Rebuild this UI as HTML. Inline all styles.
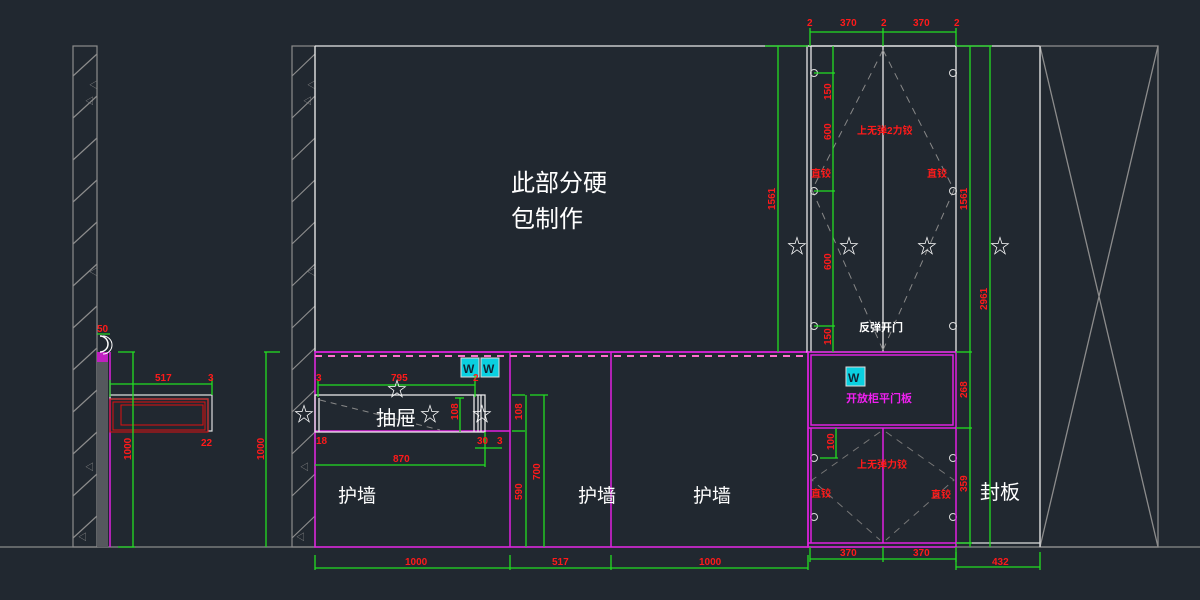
<!DOCTYPE html>
<html><head><meta charset="utf-8"><style>
html,body{margin:0;padding:0;background:#212830;}
svg{display:block}
text{font-family:"Liberation Sans","Noto Sans CJK SC","WenQuanYi Zen Hei",sans-serif}
.r{fill:#ff1a1a;font-size:10px;font-weight:bold}
.w{fill:#fff}
</style></head><body>
<svg width="1200" height="600" viewBox="0 0 1200 600" xmlns="http://www.w3.org/2000/svg">
<rect width="1200" height="600" fill="#212830"/>
<line x1="0" y1="547" x2="1200" y2="547" stroke="#8a8a8a" stroke-width="1.2"/>
<g stroke="#8c8c8c" fill="none" stroke-width="1.2">
<rect x="73" y="46" width="24" height="501"/>
<rect x="292" y="46" width="23" height="501"/>
<path d="M73 76 L97 54 M73 118 L97 96 M73 160 L97 138 M73 202 L97 180 M73 244 L97 222 M73 286 L97 264 M73 328 L97 306 M73 370 L97 348 M73 412 L97 390 M73 454 L97 432 M73 496 L97 474 M73 538 L97 516"/>
<path d="M292 76 L315 54 M292 118 L315 96 M292 160 L315 138 M292 202 L315 180 M292 244 L315 222 M292 286 L315 264 M292 328 L315 306 M292 370 L315 348 M292 412 L315 390 M292 454 L315 432 M292 496 L315 474 M292 538 L315 516"/>
</g>
<g fill="#8c8c8c" font-size="9">
<text x="89" y="88">◁</text><text x="85" y="104">◁</text><text x="89" y="275">◁</text><text x="85" y="470">◁</text><text x="78" y="540">◁</text>
<text x="307" y="88">◁</text><text x="303" y="104">◁</text><text x="307" y="275">◁</text><text x="300" y="470">◁</text><text x="296" y="540">◁</text>
</g>
<rect x="97" y="356" width="11" height="191" fill="#55585d"/>
<rect x="97" y="352" width="11" height="10" fill="#c020c0"/>
<line x1="110" y1="352" x2="110" y2="547" stroke="#e020e0" stroke-width="1.5"/>
<path d="M100 336 A8 8 0 0 1 100 352" stroke="#fff" fill="none" stroke-width="1.5"/>
<path d="M103 336 A9 9 0 0 1 103 354" stroke="#fff" fill="none" stroke-width="1"/>
<line x1="97" y1="334" x2="110" y2="334" stroke="#2f2"/>
<text class="r" x="97" y="332" font-size="9">50</text>
<path d="M110 395 H212 V431 H208 V399 H110 Z" fill="none" stroke="#ddd" stroke-width="1.2"/>
<g stroke="#e01010" fill="none">
<rect x="110" y="399" width="98" height="33"/><rect x="113" y="402" width="92" height="28"/><rect x="121" y="405" width="82" height="20"/>
</g>
<g stroke="#22dd22" fill="none" stroke-width="1.3">
<line x1="110" y1="384" x2="212" y2="384"/><line x1="110" y1="380" x2="110" y2="397"/><line x1="212" y1="378" x2="212" y2="395"/>
<line x1="133" y1="352" x2="133" y2="547"/><line x1="118" y1="352" x2="135" y2="352"/><line x1="118" y1="547" x2="135" y2="547"/>
<line x1="266" y1="352" x2="266" y2="547"/><line x1="264" y1="352" x2="280" y2="352"/>
</g>
<text class="r" x="155" y="381">517</text><text class="r" x="208" y="381">3</text><text class="r" x="201" y="446" font-size="9">22</text>
<text class="r" transform="translate(131,460) rotate(-90)">1000</text>
<text class="r" transform="translate(264,460) rotate(-90)">1000</text>
<g stroke="#e8e8e8" fill="none" stroke-width="1.3">
<line x1="315" y1="46" x2="1040" y2="46"/><line x1="315" y1="46" x2="315" y2="352"/>
</g>
<text class="w" x="511" y="191" font-size="24">此部分硬</text>
<text class="w" x="511" y="227" font-size="24">包制作</text>
<g stroke="#8c8c8c" fill="none" stroke-width="1.3">
<rect x="1040" y="46" width="118" height="501"/>
<path d="M1040 46 L1158 547 M1158 46 L1040 547"/>
</g>
<line x1="1040" y1="46" x2="1040" y2="547" stroke="#ddd" stroke-width="1.3"/>
<line x1="956" y1="543" x2="1040" y2="543" stroke="#ddd" stroke-width="1.3"/>
<g stroke="#e020e0" fill="none" stroke-width="1.5">
<line x1="315" y1="352" x2="808" y2="352"/>
<rect x="315" y="352" width="493" height="195"/>
<line x1="510" y1="352" x2="510" y2="547"/><line x1="611" y1="352" x2="611" y2="547"/>
<line x1="315" y1="431" x2="510" y2="431"/>
</g>
<line x1="315" y1="356" x2="808" y2="356" stroke="#ff6fcf" stroke-width="2" stroke-dasharray="7 6"/>
<g stroke="#e8e8e8" fill="none" stroke-width="1.3">
<rect x="315" y="395" width="170" height="37"/><line x1="319" y1="398" x2="319" y2="432"/>
<line x1="474" y1="395" x2="474" y2="432"/><line x1="478" y1="395" x2="478" y2="432"/><line x1="481" y1="395" x2="481" y2="432"/>
</g>
<line x1="320" y1="400" x2="440" y2="430" stroke="#888" stroke-dasharray="6 5"/>
<text class="w" x="376" y="425" font-size="20">抽屉</text>
<g stroke="#ddd" stroke-width="1"><rect x="461" y="358" width="18" height="19" fill="#0ad0e0"/><rect x="481" y="358" width="18" height="19" fill="#0ad0e0"/><rect x="846" y="367" width="19" height="19" fill="#0ad0e0"/></g>
<g fill="#123" font-size="12" font-weight="bold"><text x="463" y="373">W</text><text x="483" y="373">W</text><text x="848" y="382">W</text></g>
<g stroke="#22dd22" fill="none" stroke-width="1.3">
<line x1="318" y1="385" x2="475" y2="385"/><line x1="318" y1="381" x2="318" y2="397"/><line x1="475" y1="375" x2="475" y2="397"/>
<line x1="315" y1="465" x2="485" y2="465"/><line x1="485" y1="432" x2="485" y2="467"/>
<line x1="475" y1="448" x2="502" y2="448"/>
<line x1="460" y1="398" x2="460" y2="432"/><line x1="455" y1="398" x2="464" y2="398"/>
<line x1="512" y1="395" x2="525" y2="395"/><line x1="512" y1="431" x2="525" y2="431"/>
<line x1="526" y1="395" x2="526" y2="547"/><line x1="530" y1="395" x2="548" y2="395"/><line x1="544" y1="395" x2="544" y2="547"/>
<line x1="315" y1="568" x2="808" y2="568"/>
<line x1="315" y1="555" x2="315" y2="570"/><line x1="510" y1="555" x2="510" y2="570"/><line x1="611" y1="555" x2="611" y2="570"/><line x1="808" y1="555" x2="808" y2="570"/>
</g>
<text class="r" x="316" y="381">3</text><text class="r" x="391" y="381">795</text><text class="r" x="473" y="381">2</text>
<text class="r" x="316" y="444" font-size="9">18</text><text class="r" x="393" y="462">870</text>
<text class="r" x="477" y="444" font-size="9">30</text><text class="r" x="497" y="444" font-size="9">3</text>
<text class="r" transform="translate(458,420) rotate(-90)" font-size="9">108</text>
<text class="r" transform="translate(522,420) rotate(-90)" font-size="9">108</text>
<text class="r" transform="translate(522,500) rotate(-90)" font-size="9">590</text>
<text class="r" transform="translate(540,480) rotate(-90)" font-size="9">700</text>
<text class="r" x="405" y="565">1000</text><text class="r" x="552" y="565">517</text><text class="r" x="699" y="565">1000</text>
<text class="w" x="338" y="502" font-size="19">护墙</text>
<text class="w" x="578" y="502" font-size="19">护墙</text>
<text class="w" x="693" y="502" font-size="19">护墙</text>
<g stroke="#e8e8e8" fill="none" stroke-width="1.3">
<rect x="807" y="46" width="149" height="306"/><line x1="811" y1="46" x2="811" y2="352"/>
<line x1="883" y1="46" x2="883" y2="352"/>
</g>
<path d="M883 50 L812 190 L883 350 M883 50 L954 190 L883 350" stroke="#888" fill="none" stroke-dasharray="7 6"/>
<g stroke="#ddd" fill="none"><circle cx="814" cy="73" r="3.5"/><circle cx="814" cy="191" r="3.5"/><circle cx="814" cy="326" r="3.5"/><circle cx="953" cy="73" r="3.5"/><circle cx="953" cy="191" r="3.5"/><circle cx="953" cy="326" r="3.5"/>
<circle cx="814" cy="458" r="3.5"/><circle cx="814" cy="517" r="3.5"/><circle cx="953" cy="458" r="3.5"/><circle cx="953" cy="517" r="3.5"/></g>
<g stroke="#e020e0" fill="none" stroke-width="1.5">
<rect x="808" y="352" width="148" height="195"/><rect x="811" y="355" width="142" height="70"/>
<line x1="808" y1="428" x2="956" y2="428"/><line x1="883" y1="428" x2="883" y2="543"/><line x1="808" y1="543" x2="956" y2="543"/><line x1="811" y1="428" x2="811" y2="543"/>
</g>
<path d="M880 432 L812 480 L880 540 M886 432 L954 480 L886 540" stroke="#777" fill="none" stroke-dasharray="7 6"/>
<text x="846" y="402" fill="#f020f0" font-size="11" font-weight="bold">开放柜平门板</text>
<text class="r" x="857" y="134" font-size="11">上无弹2力铰</text>
<text class="r" x="811" y="177" font-size="11">直铰</text><text class="r" x="927" y="177" font-size="11">直铰</text>
<text class="r" x="857" y="468" font-size="11">上无弹力铰</text>
<text class="r" x="811" y="497" font-size="11">直铰</text><text class="r" x="931" y="498" font-size="11">直铰</text>
<text class="w" x="859" y="331" font-size="11" font-weight="bold">反弹开门</text>
<text class="w" x="980" y="499" font-size="20">封板</text>
<g stroke="#22dd22" fill="none" stroke-width="1.3">
<line x1="810" y1="32" x2="956" y2="32"/><line x1="810" y1="28" x2="810" y2="46"/><line x1="883" y1="28" x2="883" y2="46"/><line x1="956" y1="28" x2="956" y2="46"/>
<line x1="778" y1="46" x2="778" y2="352"/><line x1="765" y1="46" x2="808" y2="46"/>
<line x1="833" y1="46" x2="833" y2="352"/><line x1="814" y1="73" x2="835" y2="73"/><line x1="814" y1="191" x2="835" y2="191"/><line x1="814" y1="326" x2="835" y2="326"/>
<line x1="970" y1="46" x2="970" y2="547"/><line x1="990" y1="46" x2="990" y2="547"/><line x1="956" y1="46" x2="992" y2="46"/>
<line x1="956" y1="352" x2="972" y2="352"/><line x1="956" y1="428" x2="972" y2="428"/><line x1="956" y1="543" x2="972" y2="543"/>
<line x1="836" y1="428" x2="836" y2="458"/><line x1="820" y1="458" x2="838" y2="458"/>
<line x1="810" y1="559" x2="956" y2="559"/><line x1="810" y1="547" x2="810" y2="562"/><line x1="883" y1="547" x2="883" y2="562"/><line x1="956" y1="547" x2="956" y2="562"/>
<line x1="956" y1="567" x2="1040" y2="567"/><line x1="956" y1="552" x2="956" y2="570"/><line x1="1040" y1="552" x2="1040" y2="570"/>
</g>
<text class="r" x="807" y="26">2</text><text class="r" x="840" y="26">370</text><text class="r" x="881" y="26">2</text><text class="r" x="913" y="26">370</text><text class="r" x="954" y="26">2</text>
<text class="r" transform="translate(775,210) rotate(-90)">1561</text>
<text class="r" transform="translate(831,100) rotate(-90)" font-size="9">150</text>
<text class="r" transform="translate(831,140) rotate(-90)" font-size="9">600</text>
<text class="r" transform="translate(831,270) rotate(-90)" font-size="9">600</text>
<text class="r" transform="translate(831,345) rotate(-90)" font-size="9">150</text>
<text class="r" transform="translate(967,210) rotate(-90)">1561</text>
<text class="r" transform="translate(987,310) rotate(-90)">2961</text>
<text class="r" transform="translate(967,398) rotate(-90)" font-size="9">268</text>
<text class="r" transform="translate(967,492) rotate(-90)" font-size="9">359</text>
<text class="r" transform="translate(834,450) rotate(-90)" font-size="9">100</text>
<text class="r" x="840" y="556">370</text><text class="r" x="913" y="556">370</text>
<text class="r" x="992" y="565">432</text>
<g fill="#fff" font-size="20">
<text x="294" y="421">☆</text><text x="387" y="396">☆</text><text x="420" y="421">☆</text><text x="472" y="421">☆</text>
<text x="787" y="253">☆</text><text x="839" y="253">☆</text><text x="917" y="253">☆</text><text x="990" y="253">☆</text>
</g>
</svg>
</body></html>
